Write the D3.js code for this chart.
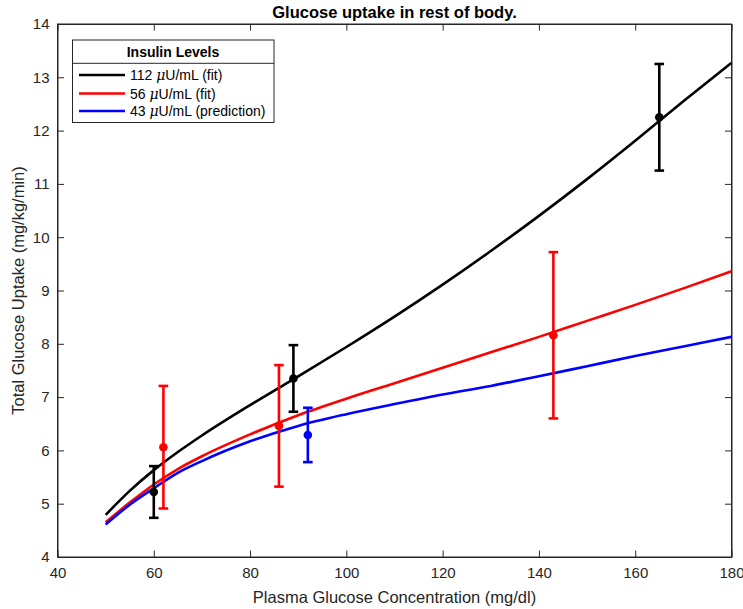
<!DOCTYPE html>
<html><head><meta charset="utf-8">
<script src="https://cdn.jsdelivr.net/npm/d3@7"></script>
<style>body{margin:0;background:#fff}svg{display:block}text{font-family:"Liberation Sans",Arial,Helvetica,sans-serif}</style>
</head><body><svg id="c" width="743" height="609"></svg>
<script>
// Curve samples (x = plasma glucose, y = uptake)
const curveX = [50,55,60,65,70,80,90,100,110,120,130,140,150,160,170,180];
const fit112 = [4.79,5.24,5.63,5.97,6.28,6.85,7.39,7.94,8.51,9.11,9.74,10.40,11.09,11.81,12.55,13.27];
const fit56  = [4.65,5.02,5.36,5.65,5.89,6.30,6.66,6.97,7.26,7.55,7.84,8.13,8.43,8.73,9.04,9.36];
const pred43 = [4.61,4.98,5.29,5.58,5.80,6.17,6.46,6.68,6.87,7.05,7.21,7.39,7.58,7.77,7.95,8.13];
// Measured points
const ptsX112 = [60,89,165], ptsY112 = [5.22,7.35,12.25], err112 = [0.485,0.625,1.0];
const ptsX56  = [62,86,143], ptsY56  = [6.06,6.46,8.16], err56  = [1.15,1.14,1.56];
const ptsX43  = [92], ptsY43 = [6.29], err43 = [0.51];
const seriesNames = ["112 \u03bcU/mL (fit)","56 \u03bcU/mL (fit)","43 \u03bcU/mL (prediction)"];
const seriesColors = ["#000000","#ff0000","#0000ff"];
const xTicks = [40,60,80,100,120,140,160,180];
const yTicks = [4,5,6,7,8,9,10,11,12,13,14];

const svg = d3.select("#c");
const L=57.5,R=731.5,T=24,B=557;
const x = d3.scaleLinear().domain([40,180]).range([L,R]);
const y = d3.scaleLinear().domain([4,14]).range([B,T]);
const axCol="#262626", tl=6.5;

// box
svg.append("rect").attr("x",L).attr("y",T).attr("width",R-L).attr("height",B-T)
  .attr("fill","#fff").attr("stroke",axCol).attr("stroke-width",1);
// axes with inward ticks
const gx=svg.append("g").attr("transform",`translate(0,${B})`)
  .call(d3.axisBottom(x).tickValues(xTicks).tickSize(-tl).tickPadding(10).tickSizeOuter(0));
const gx2=svg.append("g").attr("transform",`translate(0,${T})`)
  .call(d3.axisTop(x).tickValues(xTicks).tickSize(-tl).tickFormat("").tickSizeOuter(0));
const gy=svg.append("g").attr("transform",`translate(${L},0)`)
  .call(d3.axisLeft(y).tickValues(yTicks).tickSize(-tl).tickPadding(8).tickSizeOuter(0));
const gy2=svg.append("g").attr("transform",`translate(${R},0)`)
  .call(d3.axisRight(y).tickValues(yTicks).tickSize(-tl).tickFormat("").tickSizeOuter(0));
[gx,gx2,gy,gy2].forEach(g=>{
  g.select(".domain").attr("stroke",axCol);
  g.selectAll(".tick line").attr("stroke",axCol);
  g.selectAll("text").attr("fill",axCol).attr("font-size",15).attr("font-family","Liberation Sans, Arial, sans-serif");
});
gx.selectAll("text").attr("dy","0.71em");

// curves
const line = d3.line().x(d=>x(d[0])).y(d=>y(d[1])).curve(d3.curveMonotoneX);
const plotG = svg.append("g");
[fit112,fit56,pred43].forEach((ys,i)=>{
  plotG.append("path").datum(curveX.map((cx,j)=>[cx,ys[j]]))
    .attr("d",line).attr("fill","none").attr("stroke",seriesColors[i]).attr("stroke-width",2.6);
});
// error bars
const eb=[[ptsX112,ptsY112,err112],[ptsX56,ptsY56,err56],[ptsX43,ptsY43,err43]];
eb.forEach(([xs,ys,es],i)=>{
  const col=seriesColors[i];
  xs.forEach((px,j)=>{
    const g=plotG.append("g").attr("stroke",col).attr("stroke-width",2.6);
    g.append("line").attr("x1",x(px)).attr("x2",x(px)).attr("y1",y(ys[j]-es[j])).attr("y2",y(ys[j]+es[j]));
    [ys[j]-es[j],ys[j]+es[j]].forEach(v=>g.append("line").attr("x1",x(px)-4.8).attr("x2",x(px)+4.8).attr("y1",y(v)).attr("y2",y(v)));
    plotG.append("circle").attr("cx",x(px)).attr("cy",y(ys[j])).attr("r",4.3).attr("fill",col);
  });
});

// title and labels
svg.append("text").attr("x",(L+R)/2).attr("y",18).attr("text-anchor","middle")
  .attr("font-size",16.5).attr("font-weight","bold").attr("fill","#000").text("Glucose uptake in rest of body.");
svg.append("text").attr("x",(L+R)/2).attr("y",603).attr("text-anchor","middle")
  .attr("font-size",16.5).attr("fill",axCol).text("Plasma Glucose Concentration (mg/dl)");
svg.append("text").attr("transform",`translate(24,${(T+B)/2}) rotate(-90)`).attr("text-anchor","middle")
  .attr("font-size",16.5).attr("fill",axCol).text("Total Glucose Uptake (mg/kg/min)");

// legend
const lg=svg.append("g");
lg.append("rect").attr("x",72.5).attr("y",40).attr("width",201.5).attr("height",82.5)
  .attr("fill","#fff").attr("stroke",axCol).attr("stroke-width",1);
lg.append("line").attr("x1",72.5).attr("x2",274).attr("y1",63.3).attr("y2",63.3).attr("stroke",axCol);
lg.append("text").attr("x",173).attr("y",57).attr("text-anchor","middle").attr("font-size",14)
  .attr("font-weight","bold").attr("fill","#000").text("Insulin Levels");
const ly=[75,93.5,111];
seriesNames.forEach((nm,i)=>{
  lg.append("line").attr("x1",79).attr("x2",125).attr("y1",ly[i]).attr("y2",ly[i])
    .attr("stroke",seriesColors[i]).attr("stroke-width",2.6);
  const parts=nm.split("\u03bc");
  const t=lg.append("text").attr("x",130).attr("y",ly[i]+5).attr("font-size",14).attr("fill","#000");
  t.append("tspan").text(parts[0]);
  t.append("tspan").attr("font-style","italic").attr("font-family","DejaVu Serif, serif").text("\u03bc");
  t.append("tspan").text(parts[1]);
});
</script></body></html>
